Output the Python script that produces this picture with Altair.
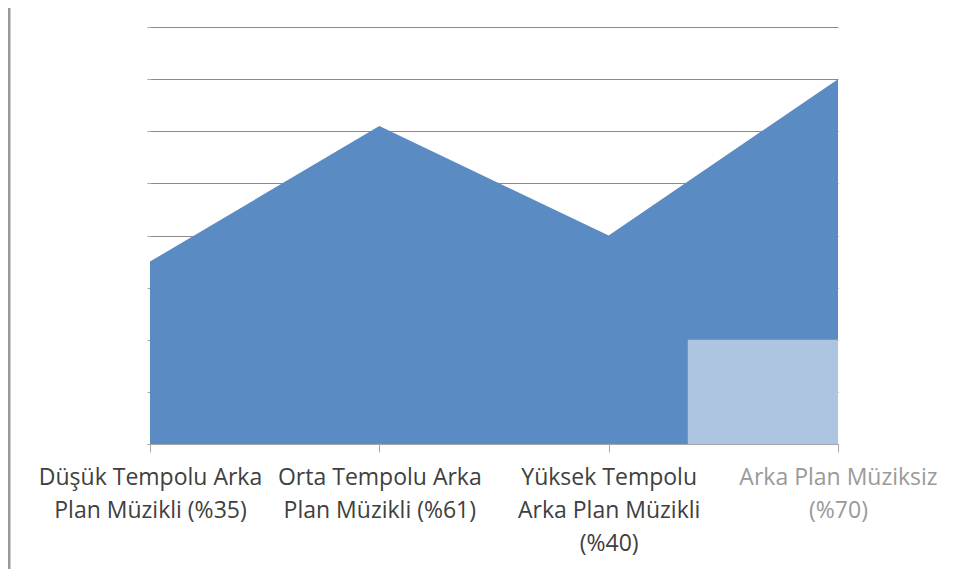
import altair as alt
import pandas as pd
import json

# ---- data ----
categories = ["Düşük Tempolu Arka Plan Müzikli", "Orta Tempolu Arka Plan Müzikli",
              "Yüksek Tempolu Arka Plan Müzikli", "Arka Plan Müziksiz"]
values = [35, 61, 40, 70]
label_lines = [
    ["Düşük Tempolu Arka", "Plan Müzikli (%35)"],
    ["Orta Tempolu Arka", "Plan Müzikli (%61)"],
    ["Yüksek Tempolu", "Arka Plan Müzikli", "(%40)"],
    ["Arka Plan Müziksiz", "(%70)"],
]
# faded overlay box (x in category-index units, y in value units)
overlay_x = [2.345]
overlay_x2 = [3.0]
overlay_y = [0]
overlay_y2 = [20]

df = pd.DataFrame({"idx": list(range(len(categories))), "cat": categories, "val": values})
ov = pd.DataFrame({"x": overlay_x, "x2": overlay_x2, "y": overlay_y, "y2": overlay_y2})

FONT = "Open Sans"
xscale = alt.Scale(domain=[0, 3], nice=False, zero=False)
yscale = alt.Scale(domain=[0, 80], nice=False)

label_expr = (json.dumps(label_lines, ensure_ascii=False) + "[datum.value]")

x_axis = alt.Axis(values=[0, 1, 2, 3], labelExpr=label_expr, grid=False,
                  domainColor="#a6a6a6", tickColor="#a6a6a6", tickSize=8,
                  labelFont=FONT, labelFontSize=23, labelLimit=500,
                  labelColor=alt.ExprRef(expr="datum.value == 3 ? '#9a9a9a' : '#404040'"),
                  labelLineHeight=33, labelPadding=14, labelBaseline="top",
                  labelOverlap=False, labelBound=False, labelFlush=False)
y_axis = alt.Axis(values=list(range(0, 81, 10)), labels=False, grid=True,
                  gridColor="#8c8c8c", gridWidth=1, domain=False,
                  tickColor="#a6a6a6", tickSize=3)

area = alt.Chart(df).mark_area(color="#5b8bc3", opacity=1, clip=False).encode(
    x=alt.X("idx:Q", scale=xscale, title=None, axis=x_axis),
    y=alt.Y("val:Q", scale=yscale, title=None, axis=y_axis),
)

overlay = alt.Chart(ov).mark_rect(color="white", opacity=0.5).encode(
    x=alt.X("x:Q", scale=xscale, title=None, axis=x_axis), x2="x2:Q",
    y=alt.Y("y:Q", scale=yscale, title=None, axis=y_axis), y2="y2:Q",
)

frame = alt.Chart(pd.DataFrame({"a": [0]})).mark_rule(color="#9a9a9a", strokeWidth=3, clip=False).encode(
    x=alt.value(-141), y=alt.value(-27), y2=alt.value(560)
)

chart = alt.layer(area, overlay, frame).properties(
    width=688, height=417,
    background="white",
    autosize=alt.AutoSizeParams(type="none"),
    padding={"left": 142, "top": 19, "right": 114, "bottom": 125},
).configure_view(stroke="transparent", strokeWidth=0).configure_axisX(grid=False)

chart.save("out.html", embed_options={"renderer": "svg", "actions": False})
